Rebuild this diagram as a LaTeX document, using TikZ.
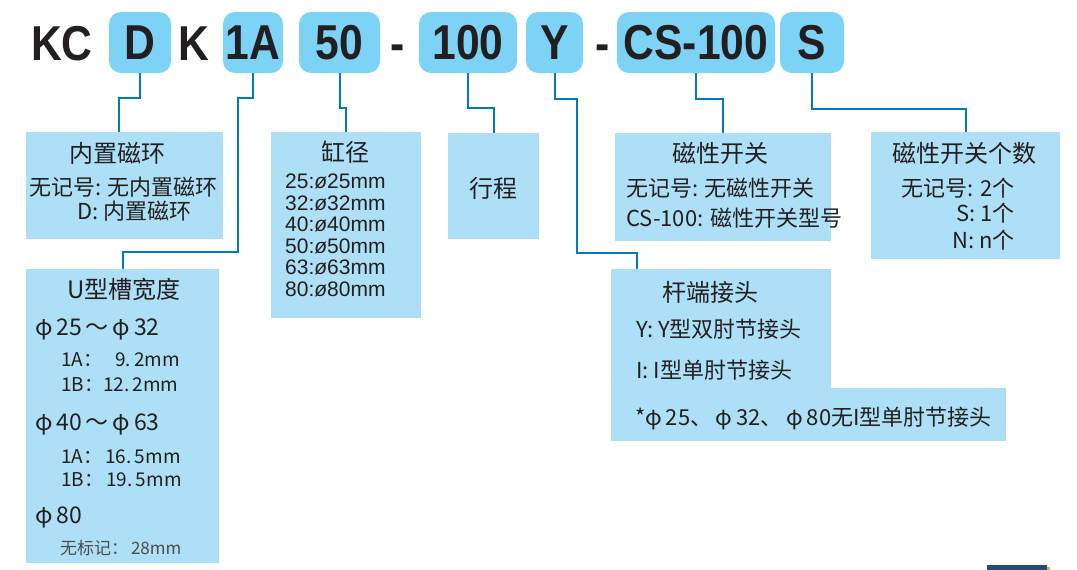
\documentclass[tikz,border=0pt]{standalone}
\usepackage{fontspec}
\setmainfont{Liberation Sans}
\newfontfamily\cjk{Noto Sans CJK SC}
\newfontfamily\codefont{Liberation Sans}[FakeStretch=0.87]
\definecolor{keyblue}{RGB}{125,211,245}
\definecolor{noteblue}{RGB}{173,224,247}
\definecolor{wire}{RGB}{0,122,193}
\definecolor{ink}{RGB}{35,31,32}
\definecolor{barblue}{RGB}{31,78,121}
\definecolor{barorange}{RGB}{240,170,50}

\begin{document}
\begin{tikzpicture}[x=1pt,y=-1pt,
        codebox/.style={fill=keyblue,rounded corners=12pt,inner sep=0pt,minimum height=61pt,text=ink,font=\codefont\bfseries\fontsize{49}{50}\selectfont},
        codetxt/.style={inner sep=0pt,anchor=base,text=ink,font=\codefont\bfseries\fontsize{49}{50}\selectfont},
        notebox/.style={fill=noteblue,inner sep=0pt},
        head/.style={inner sep=0pt,anchor=base,text=ink,font=\cjk\fontsize{24}{28}\selectfont},
        body/.style={inner sep=0pt,text=ink,font=\cjk\fontsize{22}{26}\selectfont},
        small/.style={inner sep=0pt,anchor=base west,text=ink,font=\cjk\fontsize{19}{22}\selectfont},
        sizerange/.style={inner sep=0pt,anchor=base west,text=ink,font=\cjk\fontsize{23}{26}\selectfont},
        boreline/.style={inner sep=0pt,anchor=base west,text=ink,font=\fontsize{21}{24}\selectfont},
        link/.style={draw=wire,line width=2pt}]
        \useasboundingbox (0,0) rectangle (1077,570);

        % model code
        \node (kc) [codetxt] at (62,60) {KC};
        \node (magkey) [codebox,minimum width=62pt] at (140,42.5) {D};
        \node (k) [codetxt] at (194,60) {K};
        \node (slotkey) [codebox,minimum width=60pt] at (253,42.5) {1A};
        \node (borekey) [codebox,minimum width=81pt] at (339.5,42.5) {50};
        \node (dash1) [codetxt] at (397.5,60) {-};
        \node (strokekey) [codebox,minimum width=98pt] at (468,42.5) {100};
        \node (rodkey) [codebox,minimum width=57pt] at (554.5,42.5) {Y};
        \node (dash2) [codetxt] at (602.5,60) {-};
        \node (switchkey) [codebox,minimum width=158pt] at (696,42.5) {CS-100};
        \node (countkey) [codebox,minimum width=64pt] at (812,42.5) {S};

        % note boxes
        \node (magnote) [notebox,minimum width=197pt,minimum height=107pt] at (124.5,185.5) {};
        \node (borenote) [notebox,minimum width=150pt,minimum height=186pt] at (346,225) {};
        \node (strokenote) [notebox,minimum width=91pt,minimum height=106pt] at (493.5,186) {};
        \node (switchnote) [notebox,minimum width=216pt,minimum height=108pt] at (723,187) {};
        \node (countnote) [notebox,minimum width=189pt,minimum height=127pt] at (965.5,195.5) {};
        \node (slotnote) [notebox,minimum width=193pt,minimum height=294pt] at (122.5,416) {};
        \node (rodnote) [notebox,minimum width=220pt,minimum height=120pt] at (721,329) {};
        \node (rodextra) [notebox,minimum width=395pt,minimum height=53pt] at (808.5,414.5) {};

        % connectors
        \draw[link] (magkey.south) -- ++(0,25) -| ([xshift=-5.5pt]magnote.north);
        \draw[link] (slotkey.south) -- ++(0,25) -- ++(-15,0) -- ++(0,154) -| (slotnote.north);
        \draw[link] (borekey.south) -- ++(0,35) -| (borenote.north);
        \draw[link] (strokekey.south) -- ++(0,35) -| (strokenote.north);
        \draw[link] (rodkey.south) -- ++(0,26) -- ++(22.5,0) -- ++(0,154) -| ([xshift=26pt]rodnote.north west);
        \draw[link] (switchkey.south) -- ++(0,26) -| (switchnote.north);
        \draw[link] (countkey.south) -- ++(0,36) -| (countnote.north);

        % magnet ring
        \node (magtitle) [head] at (117,162) {内置磁环};
        \node (magline1) [body,anchor=base west] at (29,195) {无记号: 无内置磁环};
        \node (magline2) [body,anchor=base west] at (77,219) {D: 内置磁环};

        % bore
        \node (boretitle) [head] at (345,161) {缸径};
        \foreach \d [count=\i] in {25,32,40,50,63,80}
            \node (bore\i) [boreline] at (285,188.5+21.6*\i-21.6) {\d:{\itshape ø}\d mm};

        % stroke
        \node (stroketitle) [head] at (493,197) {行程};

        % switch
        \node (switchtitle) [head] at (720,162) {磁性开关};
        \node (switchline1) [body,anchor=base west] at (626,196) {无记号: 无磁性开关};
        \node (switchline2) [body,anchor=base west] at (626,226) {CS-100: 磁性开关型号};

        % switch count
        \node (counttitle) [head] at (964,162) {磁性开关个数};
        \node (countline1) [body,anchor=base east] at (1015,196) {无记号: 2个};
        \node (countline2) [body,anchor=base east] at (1015,221) {S: 1个};
        \node (countline3) [body,anchor=base east] at (1015,248) {N: n个};

        % U-slot width
        \node (slottitle) [head] at (124,298) {U型槽宽度};
        \node (slotrange1) [sizerange] at (35,335) {φ\,25\,～\,φ\,32};
        \node (slot1a) [small] at (61,366) {1A：\ \ \ 9.\,2mm};
        \node (slot1b) [small] at (61,391) {1B：12.\,2mm};
        \node (slotrange2) [sizerange] at (35,430) {φ\,40\,～\,φ\,63};
        \node (slot2a) [small] at (61,463) {1A：\,16.\,5mm};
        \node (slot2b) [small] at (61,486) {1B：\,19.\,5mm};
        \node (slotrange3) [sizerange] at (35,523) {φ\,80};
        \node (slot3) [small,text=black!70,font=\cjk\fontsize{17}{20}\selectfont] at (60,554) {无标记：\,28mm};

        % rod end
        \node (rodtitle) [head] at (710,301) {杆端接头};
        \node (rodline1) [body,anchor=base west] at (636,337) {Y: Y型双肘节接头};
        \node (rodline2) [body,anchor=base west] at (636,378) {I: I型单肘节接头};
        \node (rodline3) [body,anchor=base west] at (635,425) {*φ\,25、\,φ\,32、\,φ\,80无I型单肘节接头};

        % corner bar
        \fill[barblue] (987,565) rectangle (1047,570);
        \fill[barorange] (1047,567) rectangle (1050,570);
    \end{tikzpicture}
\end{document}
